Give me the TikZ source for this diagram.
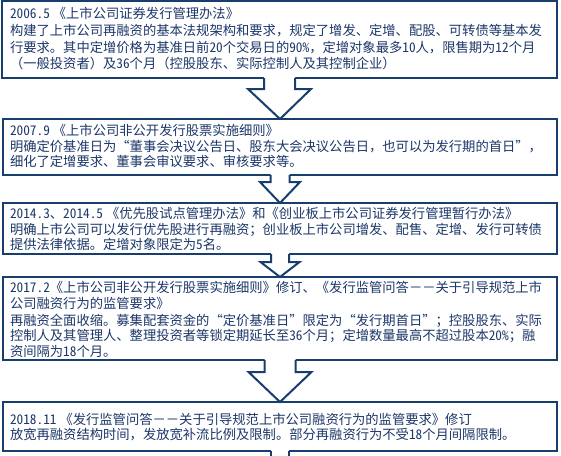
\documentclass[tikz,border=0pt]{standalone}
\usepackage{fontspec}
\setmainfont{Noto Sans CJK SC}
\newfontfamily\hwfont[RawFeature=+hwid]{Noto Sans CJK SC}
\newcommand{\hn}[1]{{\hwfont #1}}
\usetikzlibrary{calc}
\definecolor{bordc}{RGB}{24,62,110}
\definecolor{txtc}{RGB}{28,55,105}
\tikzset{
  box/.style={draw=bordc, line width=2.4pt, fill=white, anchor=north west, inner sep=0pt, outer sep=0pt},
  txt/.style={anchor=base west, inner sep=0pt, outer sep=0pt, text=txtc, font=\fontsize{13.3pt}{16pt}\selectfont},
  arrline/.style={draw=bordc, line width=2pt, line join=miter, line cap=butt},
}
\newcommand{\blockarr}[5]{%
  \fill[white] ($(#1.south)+(-#3,-1.7)$) -- ($(#1.south)+(-#3,#5)$) -- ($(#1.south)+(-#4,#5)$) -- (#2.north) -- ($(#1.south)+(#4,#5)$) -- ($(#1.south)+(#3,#5)$) -- ($(#1.south)+(#3,-1.7)$) -- cycle;
  \draw[arrline] ($(#1.south)+(-#3,0)$) -- ($(#1.south)+(-#3,#5)$) -- ($(#1.south)+(-#4,#5)$) -- (#2.north) -- ($(#1.south)+(#4,#5)$) -- ($(#1.south)+(#3,#5)$) -- ($(#1.south)+(#3,0)$);
}
\begin{document}
\begin{tikzpicture}[x=1pt,y=-1pt]
\useasboundingbox (0,0) rectangle (561,455);
% boxes
\node[box, minimum width=555pt, minimum height=77pt] (b1) at (2,1) {};
\node[box, minimum width=554pt, minimum height=56pt] (b2) at (3,119) {};
\node[box, minimum width=554pt, minimum height=51pt] (b3) at (3,203) {};
\node[box, minimum width=554pt, minimum height=83pt] (b4) at (3,277) {};
\node[box, minimum width=554pt, minimum height=49pt] (b5) at (3,402) {};
% arrows
\blockarr{b1}{b2}{15.5}{31.5}{11}
\blockarr{b2}{b3}{9.5}{20}{7}
\blockarr{b3}{b4}{9}{19.5}{8}
\blockarr{b4}{b5}{15.5}{31.5}{12}
\coordinate (end) at ($(b5.south)+(0,8)$);
\fill[white] ($(b5.south)+(-9,-1.7)$) rectangle ($(end)+(9,0)$);
\draw[arrline] ($(b5.south)+(-9,0)$) -- ($(end)+(-9,0)$);
\draw[arrline] ($(b5.south)+(9,0)$) -- ($(end)+(9,0)$);
% box 1 text
\node[txt] (t11) at (10,18) {\hn{2006.5} 《上市公司证券发行管理办法》};
\node[txt] (t12) at (10,35.5) {构建了上市公司再融资的基本法规架构和要求，规定了增发、定增、配股、可转债等基本发};
\node[txt] (t13) at (10,52) {行要求。其中定增价格为基准日前\hn{20}个交易日的\hn{90\%}，定增对象最多\hn{10}人，限售期为\hn{12}个月};
\node[txt] (t14) at (10,68) {（一般投资者）及\hn{36}个月（控股股东、实际控制人及其控制企业）};
% box 2 text
\node[txt] (t21) at (10,135) {\hn{2007.9} 《上市公司非公开发行股票实施细则》};
\node[txt] (t22) at (10,151) {明确定价基准日为“董事会决议公告日、股东大会决议公告日，也可以为发行期的首日”，};
\node[txt] (t23) at (10,166.5) {细化了定增要求、董事会审议要求、审核要求等。};
% box 3 text
\node[txt] (t31) at (10,218) {\hn{2014.3}、\hn{2014.5} 《优先股试点管理办法》和《创业板上市公司证券发行管理暂行办法》};
\node[txt] (t32) at (10,234) {明确上市公司可以发行优先股进行再融资；创业板上市公司增发、配售、定增、发行可转债};
\node[txt] (t33) at (10,249.5) {提供法律依据。定增对象限定为\hn{5}名。};
% box 4 text
\node[txt] (t41) at (10,292) {\hn{2017.2}《上市公司非公开发行股票实施细则》修订、《发行监管问答－－关于引导规范上市};
\node[txt] (t42) at (10,308) {公司融资行为的监管要求》};
\node[txt] (t43) at (10,325) {再融资全面收缩。募集配套资金的“定价基准日”限定为“发行期首日”；控股股东、实际};
\node[txt] (t44) at (10,340.5) {控制人及其管理人、整理投资者等锁定期延长至\hn{36}个月；定增数量最高不超过股本\hn{20\%}；融};
\node[txt] (t45) at (10,356) {资间隔为\hn{18}个月。};
% box 5 text
\node[txt] (t51) at (10,424) {\hn{2018.11} 《发行监管问答－－关于引导规范上市公司融资行为的监管要求》修订};
\node[txt] (t52) at (10,439.5) {放宽再融资结构时间，发放宽补流比例及限制。部分再融资行为不受\hn{18}个月间隔限制。};
\end{tikzpicture}
\end{document}
